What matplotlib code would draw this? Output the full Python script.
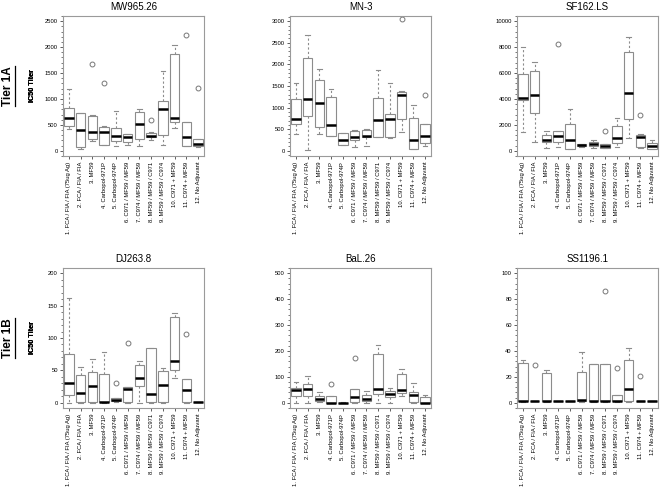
import matplotlib
matplotlib.use("Agg")
import matplotlib.pyplot as plt
from matplotlib.ticker import AutoMinorLocator, MultipleLocator
from matplotlib.lines import Line2D

plt.rcParams['font.family'] = ['Liberation Sans', 'DejaVu Sans']

# group labels (x axis)
groups = ["1. FCA / FIA / FIA (75ug Ag)", "2. FCA / FIA / FIA", "3. MF59",
          "4. Carbopol-971P", "5. Carbopol-974P", "6. C971 / MF59 / MF59",
          "7. C974 / MF59 / MF59", "8. MF59 / MF59 / C971", "9. MF59 / MF59 / C974",
          "10. C971 + MF59", "11. C974 + MF59", "12. No Adjuvant"]

# box stats per group: (whisker low, q1, median, q3, whisker high)
mw965_box = [(420, 480, 630, 820, 1190), (30, 70, 410, 720, 730), (180, 220, 370, 680, 690),
             (110, 115, 355, 465, 470), (100, 195, 280, 445, 760), (115, 170, 270, 320, 330),
             (100, 230, 525, 740, 800), (200, 260, 290, 350, 370), (110, 300, 800, 960, 1530),
             (440, 560, 640, 1870, 2040), (90, 100, 270, 560, 565), (75, 95, 125, 230, 235)]
mw965_out = [[], [], [1670], [1310], [], [], [], [600], [], [], [2240], [1210]]

mn3_box = [(400, 630, 730, 1210, 1560), (30, 810, 1210, 2140, 2670), (400, 540, 1110, 1640, 1900),
           (335, 340, 590, 1240, 1430), (135, 140, 260, 410, 415), (80, 255, 320, 470, 475),
           (100, 310, 340, 490, 495), (330, 330, 720, 1220, 1880), (290, 320, 730, 850, 1580),
           (440, 730, 1300, 1370, 1380), (40, 50, 250, 770, 1060), (110, 180, 350, 610, 620)]
mn3_out = [[], [], [], [], [], [], [], [], [], [3050], [], [1300]]

sf162_box = [(1450, 3950, 4050, 5900, 8000), (700, 2900, 4300, 6150, 6850), (200, 700, 800, 1250, 1550),
             (300, 680, 1180, 1550, 1560), (140, 150, 850, 2050, 3250), (330, 350, 450, 550, 560),
             (250, 350, 520, 700, 850), (240, 250, 400, 550, 560), (300, 600, 1000, 1950, 2500),
             (1000, 2450, 4450, 7600, 8750), (200, 300, 1100, 1250, 1300), (140, 150, 400, 600, 850)]
sf162_out = [[], [], [], [8250], [], [], [], [1550], [], [], [2800], []]

dj263_box = [(0, 12, 30, 76, 162), (0, 0.5, 15, 43, 55), (0, 0.5, 26, 47, 67),
             (0, 0.5, 1, 44, 78), (0.5, 2.5, 5, 7, 8), (0, 0.5, 22, 24, 25),
             (0, 26, 39, 58, 65), (0, 0.5, 14, 84, 84), (0, 0.5, 27, 49, 54),
             (38, 51, 64, 133, 138), (0, 0.5, 20, 36, 37), (0.5, 1, 1, 1, 1.5)]
dj263_out = [[], [], [], [], [31], [92], [], [], [], [], [106], []]

bal26_box = [(1, 26, 50, 57, 79), (1, 25, 55, 73, 105), (3, 6, 14, 28, 42),
             (0.5, 0.5, 1, 27, 28), (0.5, 1, 1, 1, 1.5), (1, 4, 23, 52, 53),
             (1, 6, 15, 32, 46), (1, 35, 55, 187, 222), (1, 23, 35, 46, 58),
             (27, 39, 49, 110, 132), (1, 4, 30, 40, 78), (0.5, 0.5, 1, 22, 32)]
bal26_out = [[], [], [], [72], [], [171], [], [], [], [], [], []]

ss1196_box = [(1, 1.2, 1.5, 31, 33), (1.5, 1.5, 1.5, 1.5, 1.5), (1, 1.2, 1.5, 23, 25),
              (1.5, 1.5, 1.5, 1.5, 1.5), (1.5, 1.5, 1.5, 1.5, 1.5), (1, 1.2, 2, 24, 39),
              (1, 1.2, 1.5, 30, 30), (1, 1.2, 1.5, 30, 30), (1, 1.2, 1.5, 6, 6),
              (1, 1.2, 11, 33, 42), (1.5, 1.5, 1.5, 1.5, 1.5), (1.5, 1.5, 1.5, 1.5, 1.5)]
ss1196_out = [[], [29], [], [], [], [], [], [86], [27], [], [21], []]

panels = [
    ("MW965.26", mw965_box, mw965_out, 2500, 500),
    ("MN-3", mn3_box, mn3_out, 3000, 500),
    ("SF162.LS", sf162_box, sf162_out, 10000, 2000),
    ("DJ263.8", dj263_box, dj263_out, 200, 50),
    ("BaL.26", bal26_box, bal26_out, 500, 100),
    ("SS1196.1", ss1196_box, ss1196_out, 100, 20),
]

W, H = 661, 488
fig = plt.figure(figsize=(W / 100, H / 100), dpi=100)

lefts = [63, 290, 517]
tops = [16, 268]
aw, ah = 141, 140
gray = '#8c8c8c'

for i, (name, boxes, outs, ymax, step) in enumerate(panels):
    r, c = divmod(i, 3)
    ax = fig.add_axes([lefts[c] / W, 1 - (tops[r] + ah) / H, aw / W, ah / H])
    stats = []
    for g, b, o in zip(groups, boxes, outs):
        stats.append(dict(whislo=b[0], q1=b[1], med=b[2], q3=b[3], whishi=b[4],
                          fliers=o, label=g))
    ax.bxp(stats, positions=range(1, 13), widths=0.8, patch_artist=True,
           boxprops=dict(facecolor='white', edgecolor=gray, linewidth=0.8),
           whiskerprops=dict(color=gray, linestyle=(0, (2, 2)), linewidth=0.8),
           capprops=dict(color=gray, linewidth=0.8),
           medianprops=dict(color='black', linewidth=1.8, solid_capstyle='butt'),
           flierprops=dict(marker='o', markersize=3.5, markerfacecolor='none',
                           markeredgecolor='#777777', markeredgewidth=0.7),
           capwidths=0.4)
    pad = ymax * 0.04
    ax.set_xlim(0.5, 12.5)
    ax.set_ylim(-pad, ymax + pad)
    ax.yaxis.set_major_locator(MultipleLocator(step))
    ax.yaxis.set_minor_locator(AutoMinorLocator(5))
    ax.set_xticks(range(1, 13))
    ax.set_xticklabels(groups, rotation=90, fontsize=4.2)
    ax.tick_params(axis='y', labelsize=4.2, length=2.2, width=0.6, pad=1.5, color='#444444')
    ax.tick_params(axis='y', which='minor', length=1.2, width=0.5, color='#444444')
    ax.tick_params(axis='x', length=2.2, width=0.6, pad=2, color='#444444')
    for sp in ax.spines.values():
        sp.set_color('#9a9a9a')
        sp.set_linewidth(0.8)
    ax.set_title(name, fontsize=7, pad=4)
    fig.text(33 / W, 1 - (tops[r] + ah / 2) / H, "IC50 Titer", rotation=90,
             fontsize=5.2, fontweight='bold', ha='center', va='center')

tiers = []
for label, yc in [("Tier 1A", 86), ("Tier 1B", 338)]:
    t = fig.text(8 / W, 1 - yc / H, label, rotation=90, fontsize=8.5,
                 fontweight='bold', ha='center', va='center')
    tiers.append(t)

fig.canvas.draw()
renderer = fig.canvas.get_renderer()
for t in tiers:
    bb = t.get_window_extent(renderer)
    x = (bb.x1 + 0.5) / W
    fig.add_artist(Line2D([x, x], [bb.y0 / H, bb.y1 / H], color='black',
                          linewidth=0.9, transform=fig.transFigure))

fig.savefig("out.png", dpi=100)
